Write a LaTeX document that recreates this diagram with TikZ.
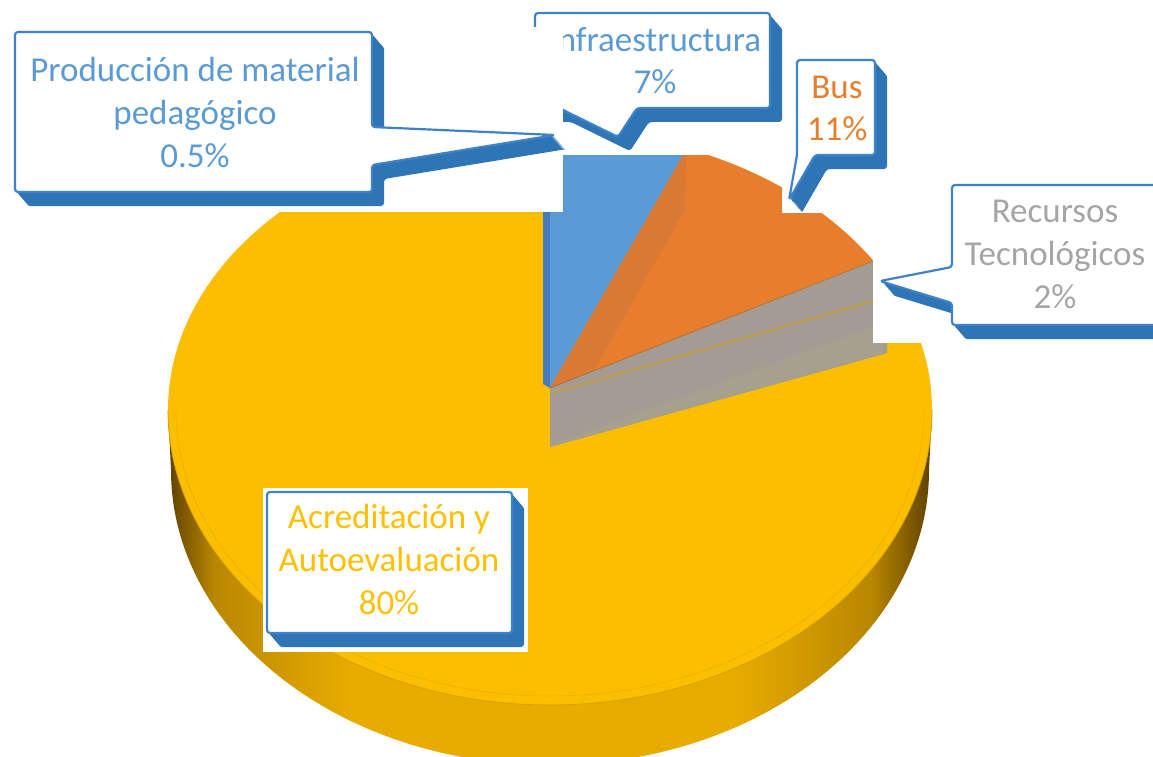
\documentclass[tikz,border=0pt]{standalone}
\usepackage{fontspec}
\setmainfont{Carlito}
\definecolor{cyel}{RGB}{251,190,0}
\definecolor{cyeltxt}{RGB}{255,192,0}
\definecolor{cblue}{RGB}{91,155,213}
\definecolor{cbluedark}{RGB}{72,122,190}
\definecolor{corange}{RGB}{233,125,46}
\definecolor{corangedark}{RGB}{218,121,52}
\definecolor{cgraytxt}{RGB}{165,165,165}
\definecolor{cshadow}{RGB}{46,117,182}
\definecolor{cborder}{RGB}{62,130,202}
\definecolor{cgrayside}{RGB}{164,156,148}
\definecolor{cgraylow}{RGB}{166,160,143}
\definecolor{crim}{RGB}{214,158,0}
\definecolor{sdark}{RGB}{95,65,0}
\definecolor{smidA}{RGB}{185,135,0}
\definecolor{smid}{RGB}{232,172,0}
\pgfdeclarehorizontalshading{pieside}{100bp}{color(0bp)=(sdark); color(25bp)=(sdark); color(28bp)=(smidA); color(37bp)=(smid); color(62bp)=(smid); color(71bp)=(smidA); color(75bp)=(sdark); color(100bp)=(sdark)}
\begin{document}
\begin{tikzpicture}[x=1pt,y=-1pt,line join=round,
  callout/.style={fill=white,draw=cborder,line width=2.2pt,rounded corners=3pt},
  shadowpart/.style={fill=cshadow,rounded corners=3pt},
  whitebg/.style={fill=white},
  lbl/.style={font=\fontsize{35}{42.7}\selectfont,align=center,inner sep=0pt},
  calA/.style={insert path={(15,32) -- (372,32) -- (372,127) -- (555,135) -- (372,165) -- (372,192) -- (15,192) -- cycle}},
  calB/.style={insert path={(535,13) -- (770,13) -- (770,108) -- (637,108) -- (618,137) -- (559,108) -- (535,108) -- cycle}},
  calC/.style={insert path={(797,60) -- (875,60) -- (875,155) -- (815,155) -- (789,200) -- (797,155) -- cycle}},
  calD/.style={insert path={(952,185) -- (1175,185) -- (1175,325) -- (952,325) -- (952,303) -- (880,281) -- (952,267) -- cycle}},
  calE/.style={insert path={(267,492) -- (512,492) -- (512,633) -- (267,633) -- cycle}}
]
\useasboundingbox (0,0) rectangle (1153,757);
\clip (0,0) rectangle (1153,757);
\fill[white] (0,0) rectangle (1153,757);

% ---- pie: side
\shade[shading=pieside] (168,410) -- (171,470) arc[start angle=180,end angle=0,x radius=379,y radius=295] -- (932,410) arc[start angle=0,end angle=180,x radius=382,y radius=295] -- cycle;
% ---- pie: top face (yellow slice)
\fill[cyel] (168,410) arc[start angle=180,end angle=360,x radius=382,y radius=280] arc[start angle=0,end angle=180,x radius=382,y radius=295] -- cycle;
\draw[crim,line width=0.8pt] (932,410) arc[start angle=0,end angle=180,x radius=382,y radius=295];
\draw[crim,line width=0.5pt,opacity=0.5] (176,410) arc[start angle=180,end angle=0,x radius=374,y radius=286];
% ---- blue slice
\fill[cbluedark] (543,140) -- (550,130) -- (550,388) -- (543,384) -- cycle;
\fill[cblue] (550,388) -- (550,130) arc[start angle=270,end angle=291,x radius=382,y radius=280] -- cycle;
% ---- orange slice
\fill[corange] (550,388) -- ([shift={(550,410)}]291:382 and 280) arc[start angle=291,end angle=327.7,x radius=382,y radius=280] -- cycle;
\fill[corangedark] (550,388) -- ([shift={(550,410)}]291:382 and 280) -- (685,210) -- (593,372) -- cycle;
% ---- grey slice (side face)
\fill[cgrayside] (550,388) -- (873,261) -- (887,272) -- (887,353) -- (550,447) -- cycle;
\fill[cgraylow] (553,444) -- (873,327) -- (887,353) -- (550,447) -- cycle;
\draw[crim,line width=1pt] (555,392) -- (873,301);
\draw[corangedark!80!black,line width=0.6pt] (550,388) -- (873,261);

% ---- Acreditacion label
\fill[whitebg] (263,488) rectangle (528,652);
\foreach \k in {1,...,14} {\path[shadowpart,shift={(12*\k/14,14*\k/14)},calE];}
\path[callout,calE];
\node[lbl,text=cyeltxt] (lE) at (389,563) {\strut Acreditación y\\\strut Autoevaluación\\\strut 80\%};

% ---- Recursos label
\fill[whitebg] (873,180) rectangle (1153,343);
\foreach \k in {1,...,14} {\path[shadowpart,shift={(12*\k/14,14*\k/14)},calD];}
\path[callout,calD];
\node[lbl,text=cgraytxt] (lD) at (1055,257) {\strut Recursos\\\strut Tecnológicos\\\strut 2\%};

% ---- Bus label
\fill[whitebg] (782,0) rectangle (905,213);
\foreach \k in {1,...,14} {\path[shadowpart,shift={(12*\k/14,14*\k/14)},calC];}
\path[callout,calC];
\node[lbl,text=corange] (lC) at (837,111) {\strut Bus\\\strut 11\%};

% ---- Infraestructura label
\fill[whitebg] (535,0) rectangle (782,155);
\foreach \k in {1,...,14} {\path[shadowpart,shift={(12*\k/14,14*\k/14)},calB];}
\path[callout,calB];
\node[lbl,text=cblue] (lB) at (655,64) {\strut Infraestructura\\\strut 7\%};

% ---- Produccion label
\fill[whitebg] (0,27) rectangle (563,212);
\foreach \k in {1,...,14} {\path[shadowpart,shift={(12*\k/14,14*\k/14)},calA];}
\path[callout,calA];
\node[lbl,text=cblue] (lA) at (195,116) {\strut Producción de material\\\strut pedagógico\\\strut 0.5\%};
\end{tikzpicture}
\end{document}
